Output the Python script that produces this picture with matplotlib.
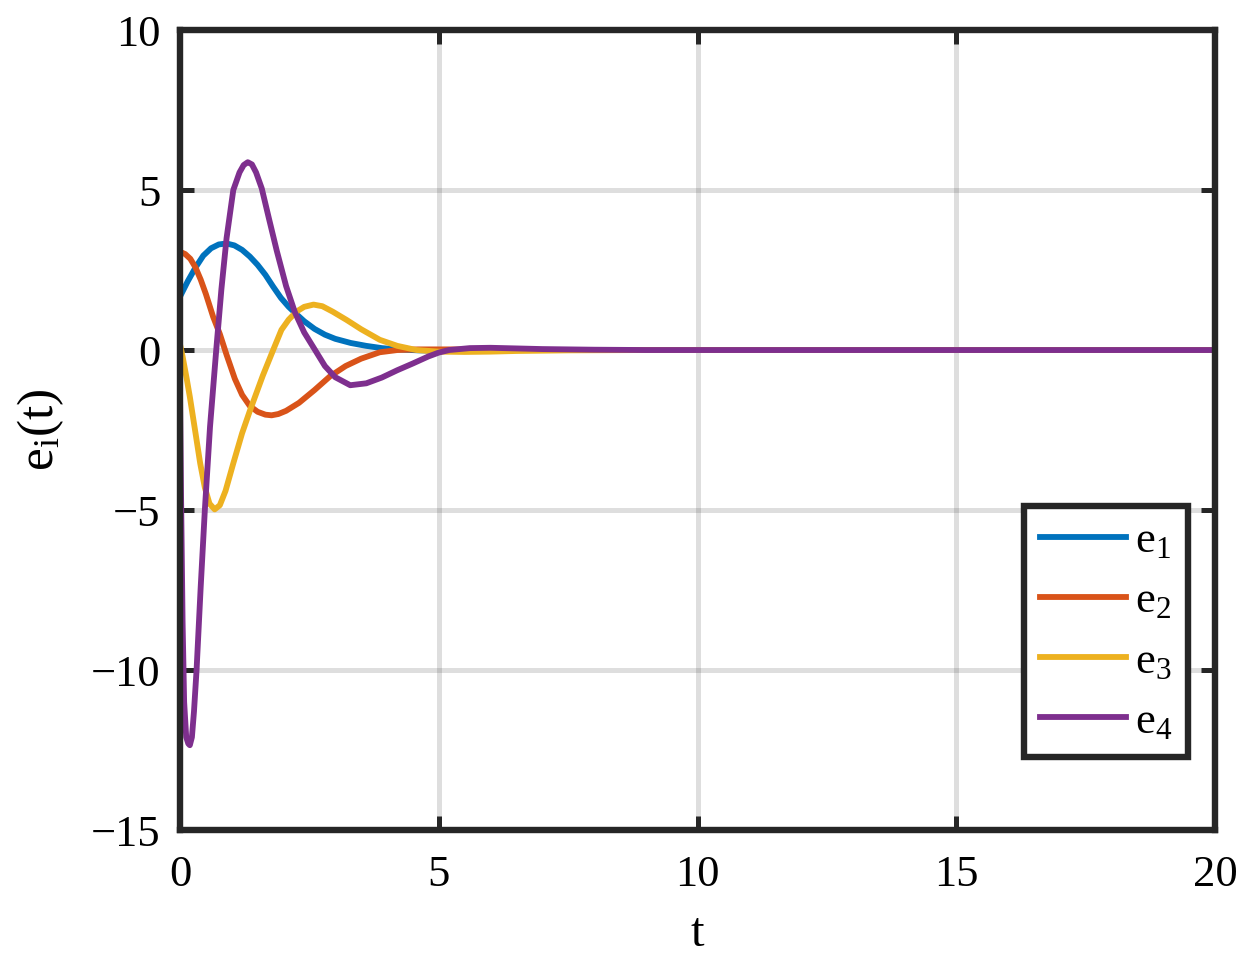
import numpy as np
import matplotlib
matplotlib.use("Agg")
import matplotlib.pyplot as plt

plt.rcParams['font.family'] = ['Liberation Serif', 'DejaVu Serif']
plt.rcParams['mathtext.fontset'] = 'custom'
plt.rcParams['mathtext.rm'] = 'Liberation Serif'

# error signals (t, value)
t1 = [0, 0.15, 0.3, 0.45, 0.6, 0.75, 0.9, 1.05, 1.2, 1.35, 1.5, 1.65, 1.8, 1.95,
      2.1, 2.25, 2.4, 2.6, 2.8, 3.0, 3.3, 3.6, 3.9, 4.2, 4.6, 5.0, 5.5, 6.5, 8, 20]
e1 = [1.67, 2.15, 2.58, 2.95, 3.18, 3.3, 3.33, 3.27, 3.13, 2.92, 2.66, 2.35, 1.98, 1.63,
      1.35, 1.12, 0.9, 0.66, 0.48, 0.35, 0.22, 0.13, 0.06, 0.02, -0.01, -0.02, -0.01, 0.0, 0.0, 0.0]

t2 = [0, 0.1, 0.2, 0.3, 0.4, 0.5, 0.64, 0.77, 0.9, 1.06, 1.2, 1.35, 1.5, 1.65, 1.77,
      1.9, 2.05, 2.3, 2.6, 2.9, 3.2, 3.5, 3.86, 4.2, 4.6, 5.2, 6.0, 7.0, 20]
e2 = [3.07, 3.0, 2.85, 2.58, 2.2, 1.75, 1.04, 0.5, -0.15, -0.9, -1.4, -1.75, -1.93, -2.02, -2.04,
      -2.0, -1.9, -1.65, -1.25, -0.82, -0.5, -0.27, -0.07, 0.0, 0.02, 0.02, 0.01, 0.0, 0.0]

t3 = [0, 0.05, 0.13, 0.19, 0.3, 0.39, 0.48, 0.57, 0.67, 0.77, 0.88, 1.03, 1.2, 1.35, 1.45,
      1.6, 1.8, 1.96, 2.1, 2.25, 2.4, 2.58, 2.75, 2.95, 3.22, 3.5, 3.86, 4.2, 4.57, 5.0,
      5.5, 6.0, 6.5, 7.5, 9, 20]
e3 = [0.18, -0.2, -0.9, -1.46, -2.6, -3.54, -4.3, -4.8, -4.98, -4.85, -4.4, -3.54, -2.6, -1.9, -1.46,
      -0.8, 0.0, 0.63, 0.95, 1.2, 1.35, 1.42, 1.37, 1.2, 0.94, 0.65, 0.32, 0.13, 0.0, -0.05,
      -0.06, -0.05, -0.03, -0.01, 0.0, 0.0]

t4 = [0, 0.02, 0.05, 0.08, 0.12, 0.16, 0.19, 0.23, 0.27, 0.32, 0.4, 0.48, 0.58, 0.7, 0.8,
      0.9, 1.03, 1.15, 1.23, 1.31, 1.39, 1.47, 1.58, 1.72, 1.87, 2.05, 2.22, 2.4, 2.61, 2.8,
      3.0, 3.29, 3.6, 3.9, 4.2, 4.5, 4.8, 5.0, 5.2, 5.6, 6.0, 6.5, 7.0, 8.0, 9.0, 20]
e4 = [-1.3, -4.5, -8.5, -11.0, -12.1, -12.3, -12.35, -12.1, -11.3, -10.0, -7.4, -5.0, -2.4, 0.0, 1.9,
      3.5, 5.0, 5.55, 5.78, 5.87, 5.8, 5.55, 5.05, 4.1, 3.1, 2.0, 1.18, 0.55, 0.0, -0.5,
      -0.85, -1.1, -1.04, -0.86, -0.63, -0.42, -0.2, -0.08, 0.0, 0.06, 0.07, 0.05, 0.03, 0.01, 0.0, 0.0]

series = [(t1, e1), (t2, e2), (t3, e3), (t4, e4)]
names = [r'$\mathregular{e_1}$', r'$\mathregular{e_2}$', r'$\mathregular{e_3}$', r'$\mathregular{e_4}$']
colors = ['#0072BD', '#D95319', '#EDB120', '#7E2F8E']  # matlab defaults

fig = plt.figure(figsize=(12.5, 9.63), dpi=100)
ax = fig.add_axes([0.144, 0.1381, 0.828, 0.8307])

for (tt, ee), nm, c in zip(series, names, colors):
    ax.plot(tt, ee, color=c, lw=4.2, label=nm, solid_joinstyle='round')

ax.set_xlim(0, 20)
ax.set_ylim(-15, 10)
ax.set_xticks([0, 5, 10, 15, 20])
ax.set_yticks([-15, -10, -5, 0, 5, 10])
ax.set_yticklabels(['\u221215', '\u221210', '\u22125', '0', '5', '10'])
ax.grid(True, color='#262626', alpha=0.15, lw=3.6)
ax.set_axisbelow(True)

for s in ax.spines.values():
    s.set_linewidth(4.6)
    s.set_color('#262626')
ax.tick_params(direction='in', length=10, width=3.6, color='#262626',
               top=True, right=True, labelsize=32)
ax.tick_params(axis='x', pad=18)
ax.tick_params(axis='y', pad=14)

ax.set_xlabel('t', fontsize=35, labelpad=12)
ax.set_ylabel(r'$\mathregular{e_i(t)}$', fontsize=37, labelpad=18)

leg = ax.legend(loc='lower right', bbox_to_anchor=(0.974, 0.091), fontsize=32,
                fancybox=False, framealpha=1, edgecolor='#262626', borderaxespad=0,
                handlelength=1.95, handletextpad=0.2, labelspacing=0.45, borderpad=0.35)
leg.get_frame().set_linewidth(4.6)

fig.savefig('out.png', dpi=100)
